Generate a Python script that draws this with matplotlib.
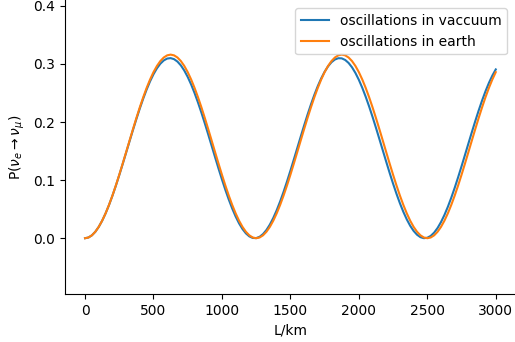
import matplotlib
matplotlib.use("Agg")
import matplotlib.pyplot as plt

L_km = list(range(0, 3001, 25))

p_vacuum = [
    0.0, 0.00124, 0.00495, 0.01106, 0.01948, 0.03007, 0.04266, 0.05705, 0.07301, 0.09028,
    0.10860, 0.12766, 0.14715, 0.16677, 0.18620, 0.20513, 0.22327, 0.24028, 0.25596, 0.27002,
    0.28219, 0.29239, 0.30035, 0.30599, 0.30921, 0.30995, 0.30821, 0.30402, 0.29744, 0.28858,
    0.27756, 0.26460, 0.24988, 0.23363, 0.21613, 0.19764, 0.17847, 0.15893, 0.13932, 0.11996,
    0.10117, 0.08322, 0.06653, 0.05112, 0.03740, 0.02559, 0.01584, 0.00833, 0.00317, 0.00045,
    0.00020, 0.00243, 0.00711, 0.01416, 0.02346, 0.03489, 0.04821, 0.06325, 0.07978, 0.09750,
    0.11615, 0.13542, 0.15500, 0.17458, 0.19385, 0.21250, 0.23022, 0.24675, 0.26179, 0.27511,
    0.28654, 0.29584, 0.30289, 0.30757, 0.30980, 0.30955, 0.30683, 0.30167, 0.29416, 0.28441,
    0.27260, 0.25888, 0.24347, 0.22678, 0.20883, 0.19004, 0.17068, 0.15107, 0.13153, 0.11236,
    0.09387, 0.07637, 0.06012, 0.04540, 0.03244, 0.02142, 0.01256, 0.00598, 0.00179, 0.00005,
    0.00080, 0.00401, 0.00965, 0.01761, 0.02781, 0.03998, 0.05404, 0.06972, 0.08673, 0.10488,
    0.12380, 0.14323, 0.16285, 0.18234, 0.20140, 0.21972, 0.23699, 0.25295, 0.26734, 0.27993,
    0.29052,
]

p_earth = [
    0.0, 0.00125, 0.00496, 0.01109, 0.01954, 0.03017, 0.04282, 0.05729, 0.07334, 0.09073,
    0.10918, 0.12839, 0.14808, 0.16792, 0.18761, 0.20683, 0.22527, 0.24266, 0.25871, 0.27318,
    0.28583, 0.29646, 0.30491, 0.31104, 0.31475, 0.31600, 0.31475, 0.31104, 0.30491, 0.29646,
    0.28583, 0.27318, 0.25871, 0.24266, 0.22527, 0.20683, 0.18761, 0.16792, 0.14808, 0.12839,
    0.10918, 0.09073, 0.07334, 0.05729, 0.04282, 0.03017, 0.01954, 0.01109, 0.00496, 0.00125,
    0.0, 0.00125, 0.00496, 0.01109, 0.01954, 0.03017, 0.04282, 0.05729, 0.07334, 0.09073,
    0.10918, 0.12839, 0.14808, 0.16792, 0.18761, 0.20683, 0.22527, 0.24266, 0.25871, 0.27318,
    0.28583, 0.29646, 0.30491, 0.31104, 0.31475, 0.31600, 0.31475, 0.31104, 0.30491, 0.29646,
    0.28583, 0.27318, 0.25871, 0.24266, 0.22527, 0.20683, 0.18761, 0.16792, 0.14808, 0.12839,
    0.10918, 0.09073, 0.07334, 0.05729, 0.04282, 0.03017, 0.01954, 0.01109, 0.00496, 0.00125,
    0.0, 0.00125, 0.00496, 0.01109, 0.01954, 0.03017, 0.04282, 0.05729, 0.07334, 0.09073,
    0.10918, 0.12839, 0.14808, 0.16792, 0.18761, 0.20683, 0.22527, 0.24266, 0.25871, 0.27318,
    0.28583,
]

labels = ["oscillations in vaccuum", "oscillations in earth"]

fig = plt.figure(figsize=(5.15, 3.42), dpi=100)
ax = fig.add_axes([64.5 / 515, 48 / 342, (516.3 - 64.5) / 515, 294 / 342])
ax.plot(L_km, p_vacuum, color="tab:blue", lw=1.5, label=labels[0])
ax.plot(L_km, p_earth, color="tab:orange", lw=1.5, label=labels[1])
ax.set_xlim(-150, 3150)
ax.set_ylim(-0.096, 0.41)
ax.set_xticks([0, 500, 1000, 1500, 2000, 2500, 3000])
ax.set_yticks([0.0, 0.1, 0.2, 0.3, 0.4])
ax.spines["top"].set_visible(False)
ax.spines["right"].set_visible(False)
ax.set_xlabel("L/km")
ax.set_ylabel(r"P($\nu_e \rightarrow \nu_\mu$)")
ax.legend(loc="upper right", bbox_to_anchor=(0.995, 0.995))
fig.savefig("out.png", dpi=100)
